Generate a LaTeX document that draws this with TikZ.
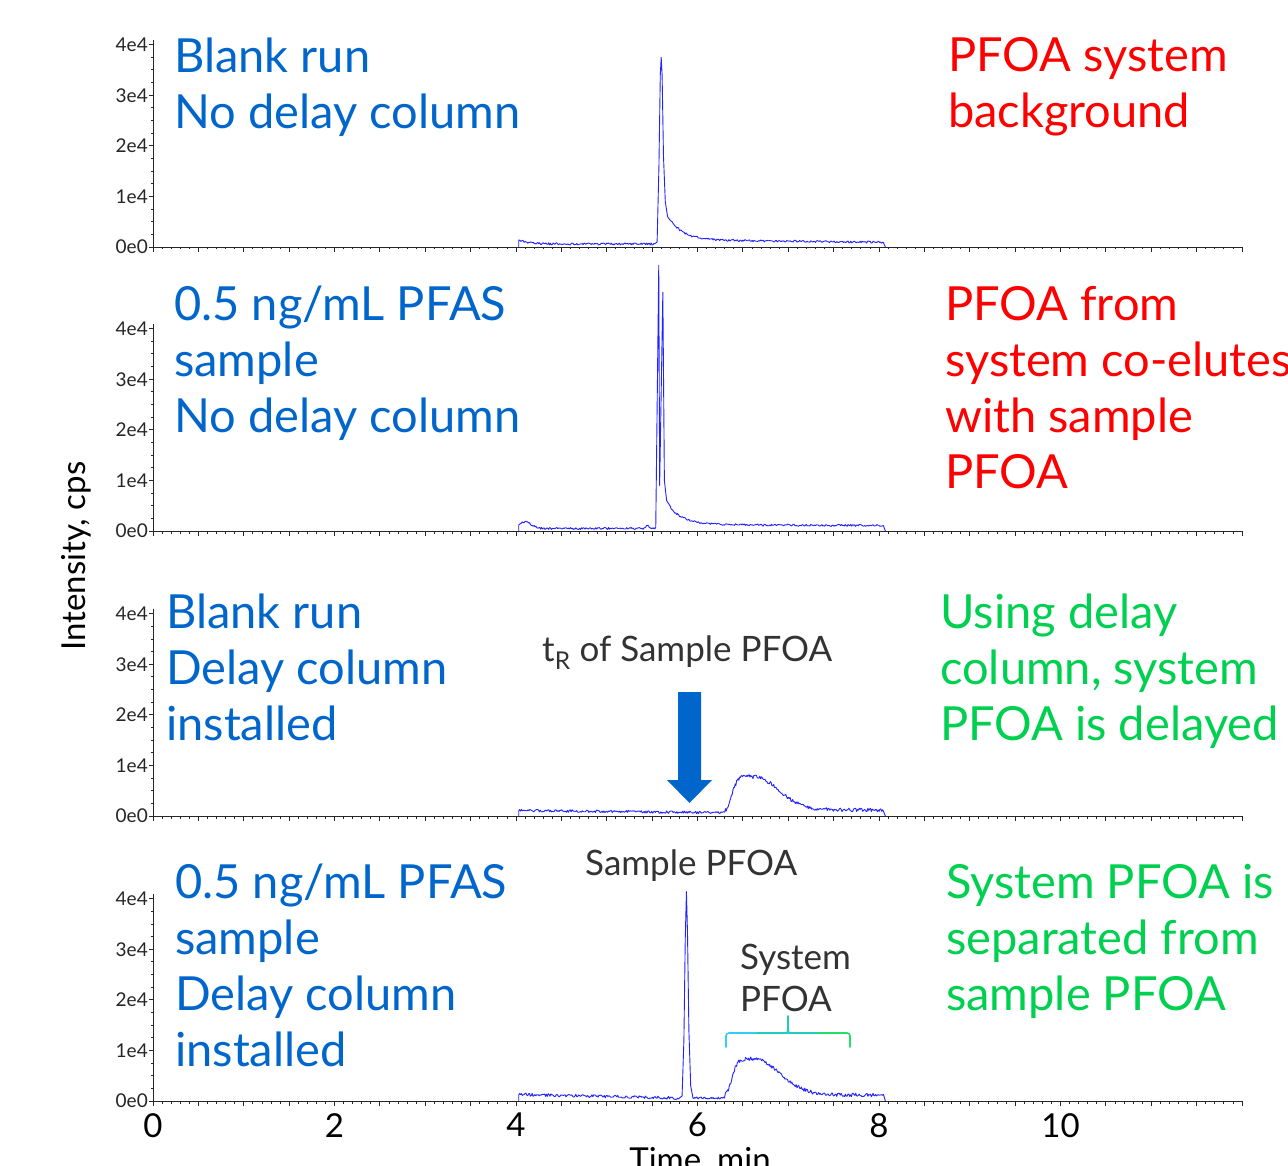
\documentclass[tikz,border=0pt]{standalone}
\usepackage{fontspec}
\setmainfont{Lato}

\definecolor{labblue}{RGB}{0,102,204}
\definecolor{labred}{RGB}{255,0,0}
\definecolor{labgreen}{RGB}{0,208,80}
\definecolor{tracecol}{RGB}{35,35,255}
\definecolor{notegrey}{RGB}{51,51,51}
\definecolor{bracecyan}{RGB}{51,204,255}
\definecolor{braceteal}{RGB}{34,204,187}
\definecolor{bracegreen}{RGB}{34,221,102}

\begin{document}
\begin{tikzpicture}[x=1pt,y=-1pt,
	trace/.style={tracecol,line width=0.9pt,line join=round},
	axisline/.style={black!85,line width=0.8pt},
	bigtext/.style={anchor=base west,align=left,inner sep=0pt,font=\fontsize{47}{56}\selectfont},
	ticklab/.style={inner sep=0pt,black!85,font=\fontsize{19}{19}\selectfont},
	axlab/.style={inner sep=0pt,black,font=\fontsize{33}{33}\selectfont},
	note/.style={anchor=base west,align=left,inner sep=0pt,notegrey,font=\fontsize{35}{42}\selectfont},
	bracepart/.style={line width=1.6pt,line cap=round,rounded corners=3pt}]
	\useasboundingbox[fill=white] (0,0) rectangle (1288,1166);
	\pgfmathsetseed{7}

	\foreach \b in {247,531,816,1101}{
		\begin{scope}[shift={(153pt,-\b*1pt)},x=90.75pt,y=50.6pt]
			\draw[axisline] (0,4.1) -- (0,0) -- (12,0);
			\foreach \i in {0,...,120} \draw[axisline] (\i/10,0) -- ++(0,-2.5pt);
			\foreach \i in {0,...,24} \draw[axisline] (\i/2,0) -- ++(0,-5pt);
			\foreach \i in {0,...,16} \draw[axisline] (0,\i/4) -- ++(-2.5pt,0);
			\foreach \v/\lab in {0/0e0,1/1e4,2/2e4,3/3e4,4/4e4}{
				\draw[axisline] (0,\v) -- ++(-4.5pt,0);
				\node[ticklab,anchor=east] (yl\b\v) at ([xshift=-5pt]0,\v) {\lab};
			}
		\end{scope}
	}

	\begin{scope}[shift={(153pt,-247pt)},x=90.75pt,y=50.6pt]
		\draw[trace] (4.03,0) -- (4.03,0.14)
			-- plot[domain=4.04:5.53,samples=150] (\x,{0.06+0.07*exp(-(\x-4.04)/0.1)+0.02*rand})
			-- (5.555,0.1) -- (5.575,1.6) -- (5.59,3.4) -- (5.6,3.75) -- (5.61,3.4)
			-- (5.625,1.8) -- (5.645,0.9) -- (5.67,0.6)
			-- plot[domain=5.7:8.05,samples=230] (\x,{0.14+0.4*exp(-(\x-5.7)/0.15)-0.02*(\x-5.7)+0.02*rand})
			-- (8.07,0);
	\end{scope}

	\begin{scope}[shift={(153pt,-531pt)},x=90.75pt,y=50.6pt]
		\draw[trace] (4.03,0) -- (4.03,0.12)
			-- plot[domain=4.04:5.53,samples=150] (\x,{0.05+0.13*exp(-((\x-4.1)/0.1)^2)+0.05*exp(-((\x-5.45)/0.03)^2)+0.02*rand})
			-- (5.54,0.07) -- (5.573,5.25) -- (5.583,0.9) -- (5.618,4.72) -- (5.635,1.0) -- (5.66,0.6)
			-- plot[domain=5.7:8.05,samples=230] (\x,{0.13+0.34*exp(-(\x-5.7)/0.15)-0.01*(\x-5.7)+0.02*rand})
			-- (8.07,0);
	\end{scope}

	\begin{scope}[shift={(153pt,-816pt)},x=90.75pt,y=50.6pt]
		\draw[trace] (4.03,0) -- (4.03,0.1)
			-- plot[domain=4.04:6.3,samples=220] (\x,{0.11-0.02*(\x-4)+0.025*rand})
			-- plot[domain=6.3:6.62,samples=40] (\x,{0.06+0.72/(1+exp(-(\x-6.38)/0.03))+0.04*rand})
			-- plot[domain=6.63:8.05,samples=150] (\x,{0.12+0.66*exp(-((\x-6.62)/0.38)^2)+0.035*rand})
			-- (8.07,0);
	\end{scope}

	\begin{scope}[shift={(153pt,-1101pt)},x=90.75pt,y=50.6pt]
		\draw[trace] (4.03,0) -- (4.03,0.12)
			-- plot[domain=4.04:5.8,samples=180] (\x,{0.13-0.04*(\x-4)+0.03*rand})
			-- (5.83,0.1) -- (5.85,1.2) -- (5.865,3.2) -- (5.878,4.14) -- (5.89,3.3)
			-- (5.905,1.4) -- (5.925,0.3) -- (5.95,0.06)
			-- plot[domain=5.96:6.3,samples=35] (\x,{0.06+0.02*rand})
			-- plot[domain=6.3:6.62,samples=40] (\x,{0.06+0.78/(1+exp(-(\x-6.38)/0.03))+0.04*rand})
			-- plot[domain=6.63:8.05,samples=150] (\x,{0.12+0.72*exp(-((\x-6.62)/0.4)^2)+0.035*rand})
			-- (8.07,0);
		\foreach \t in {0,2,...,10}
			\node[axlab,anchor=north] (xl\t) at ([yshift=-12pt]\t,0) {\t};
	\end{scope}

	\node[axlab,rotate=90,anchor=base west] (ylabel) at (85,651) {Intensity, cps};
	\node[axlab,anchor=base] (xlabel) at (700,1171) {Time, min};

	% multi-line nodes: the base is the last line
	\node[bigtext,labblue] (blank1) at (174,129) {Blank run\\No delay column};
	\node[bigtext,labred] (bg1) at (948,128) {PFOA system\\background};
	\node[bigtext,labblue] (samp2) at (174,432) {0.5 ng/mL PFAS\\sample\\No delay column};
	\node[bigtext,labred] (coel2) at (945,488) {PFOA from\\system co-elutes\\with sample\\PFOA};
	\node[bigtext,labblue] (blank3) at (166,740) {Blank run\\Delay column\\installed};
	\node[bigtext,labgreen] (delay3) at (940,740) {Using delay\\column, system\\PFOA is delayed};
	\node[bigtext,labblue] (samp4) at (175,1066) {0.5 ng/mL PFAS\\sample\\Delay column\\installed};
	\node[bigtext,labgreen] (sep4) at (946,1010) {System PFOA is\\separated from\\sample PFOA};

	\node[note] (trlab) at (542,661) {t\textsubscript{R} of Sample PFOA};
	\node[note] (samplab) at (585,875) {Sample PFOA};
	\node[note] (syslab) at (740,1011) {System\\PFOA};

	\fill[labblue] (678,692) -- (701,692) -- (701,780) -- (712,780) -- (689.5,803)
		-- (667,780) -- (678,780) -- cycle;

	\draw[bracepart,bracecyan] (726,1047) -- (726,1033) -- (757,1033);
	\draw[bracepart,braceteal] (757,1033) -- (784,1033) to[out=0,in=-90] (788,1026) -- (788,1016);
	\draw[bracepart,braceteal] (788,1026) to[out=-90,in=180] (792,1033) -- (819,1033);
	\draw[bracepart,bracegreen] (819,1033) -- (850,1033) -- (850,1047);
\end{tikzpicture}
\end{document}
